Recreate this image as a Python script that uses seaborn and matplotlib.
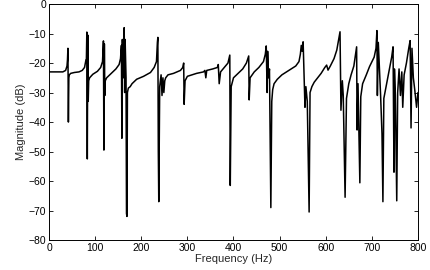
import matplotlib
matplotlib.use("Agg")
import matplotlib.pyplot as plt
import seaborn as sns
import pandas as pd

freq = [0, 10, 20, 30, 36, 39, 40, 41, 42, 43, 44, 47, 55, 65, 72, 77, 80, 81, 82, 83, 84, 85, 86, 88,
        95, 105, 112, 116, 118, 119, 120, 121, 122, 125, 135, 145, 152, 155, 157, 158, 159, 161, 163,
        164, 165, 167, 168, 169, 170, 172, 176, 180, 190, 205, 220, 228, 233, 235, 236, 237, 238, 240,
        243, 245, 247, 249, 251, 253, 258, 270, 285, 290, 292, 293, 295, 300, 320, 335, 338, 340, 342,
        355, 365, 367, 369, 372, 380, 388, 392, 393, 395, 400, 410, 420, 428, 433, 434, 436, 445, 455,
        465, 469, 471, 473, 474, 476, 478, 481, 483, 485, 488, 495, 505, 515, 525, 535, 542, 545, 547,
        549, 551, 555, 557, 560, 564, 566, 570, 575, 580, 590, 598, 602, 605, 610, 618, 624, 631, 633,
        636, 638, 642, 645, 650, 655, 661, 667, 668, 670, 674, 676, 680, 688, 695, 705, 709, 711, 712,
        714, 716, 719, 722, 724, 726, 732, 738, 743, 746, 748, 749, 751, 754, 756, 759, 762, 765, 767,
        770, 775, 780, 783, 785, 787, 790, 793, 797, 800]
mag = [-23, -23, -23, -23, -22.5, -21, -19, -15, -40, -25, -24, -23.5, -23.2, -23, -22.5, -21.5, -19,
       -19, -9.5, -52.5, -10.5, -33, -26, -25, -23.8, -22.8, -21.5, -19.5, -12.5, -49.5, -13.5, -31,
       -26, -25, -23.5, -22, -20.5, -18.5, -14, -45.5, -12, -25, -8, -30, -12, -25, -71, -72, -30,
       -28.5, -28, -27, -25.5, -24.5, -23.2, -21.5, -19.5, -13, -11.3, -50, -67, -28, -24, -31, -25,
       -30, -26, -25, -24, -23.5, -22.5, -21.5, -20, -34, -26, -24.5, -23.5, -23, -22.5, -25, -22.5,
       -22, -21.5, -20.5, -27, -23, -21.5, -20, -17.3, -61.5, -28, -25, -23.5, -22, -20, -17.6, -32.5,
       -25, -23, -21.5, -19.5, -17, -14.2, -30, -16, -25, -22, -69, -33, -29, -27, -25.5, -24, -23, -22,
       -21, -19.5, -17, -14, -16, -12.8, -35, -28, -33, -70.5, -30, -28, -26.5, -25.5, -23.5, -21.5,
       -20.7, -22.4, -21, -18.5, -15.6, -9.4, -36, -26, -31, -65.5, -32, -27, -24, -21, -14.5, -42.7,
       -27, -60.6, -31.4, -27, -24, -21.2, -18, -15, -9, -31, -13, -20, -31, -44, -67, -32, -27, -22,
       -18, -14.5, -57, -22, -31, -66.7, -30, -22, -31, -23, -35, -24, -20, -15, -12.4, -42, -15,
       -25, -29, -35, -30]

df = pd.DataFrame({"Frequency": freq, "Magnitude": mag})

sns.set_style("white")
plt.rcParams["font.family"] = ["Liberation Sans", "DejaVu Sans"]

fig = plt.figure(figsize=(4.3, 2.7), dpi=100)
ax = fig.add_axes([0.114, 0.111, 0.858, 0.874])
sns.lineplot(data=df, x="Frequency", y="Magnitude", ax=ax, color="black", linewidth=1.1,
             estimator=None, sort=False)
ax.set_xlim(0, 800)
ax.set_ylim(-80, 0)
ax.set_xticks(range(0, 801, 100))
ax.set_yticks(range(-80, 1, 10))
ax.set_xlabel("Frequency (Hz)", fontsize=8, labelpad=1)
ax.set_ylabel("Magnitude (dB)", fontsize=8, labelpad=2)
ax.tick_params(direction="in", length=3, width=0.6, labelsize=7.5, top=True, right=True,
               bottom=True, left=True, pad=2, colors="black")
for s in ax.spines.values():
    s.set_visible(True)
    s.set_color("black")
    s.set_linewidth(0.7)
fig.savefig("out.png", dpi=100)
